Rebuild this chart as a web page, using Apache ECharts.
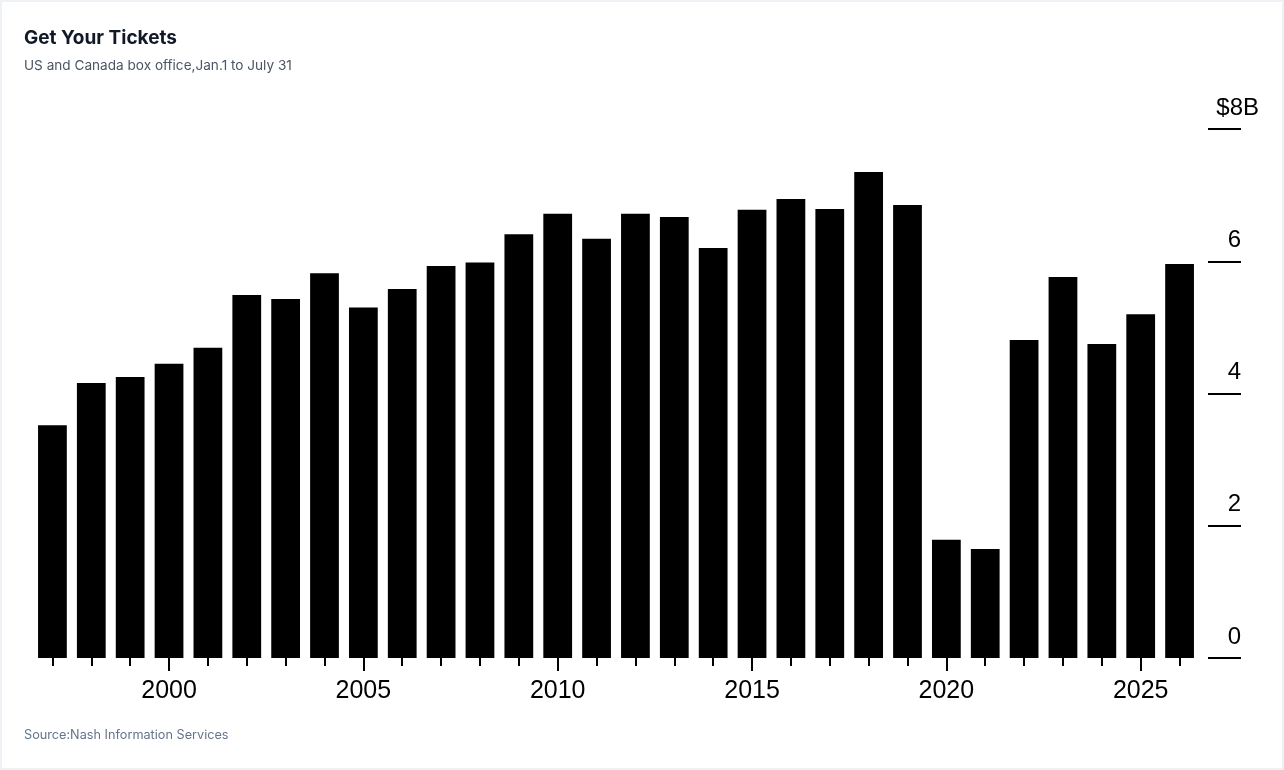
<!DOCTYPE html>
<html>
<head>
<meta charset="utf-8">
<script src="https://cdn.jsdelivr.net/npm/echarts@6/dist/echarts.min.js"></script>
<style>
  html, body { margin: 0; padding: 0; background: #eef2f6; }
  .chart { position: absolute; left: 2px; top: 2px; width: 1280px; height: 766px; background: #fff; }
</style>
</head>
<body>
<div class="chart"></div>
<script>
// 数据
const years = [
  "1997", "1998", "1999", "2000", "2001", "2002", "2003", "2004", "2005", "2006",
  "2007", "2008", "2009", "2010", "2011", "2012", "2013", "2014", "2015", "2016",
  "2017", "2018", "2019", "2020", "2021", "2022", "2023", "2024", "2025", "2026",
];
const boxOffice = [
  3.52, 4.16, 4.25, 4.45, 4.69, 5.49, 5.43, 5.82, 5.30, 5.58,
  5.93, 5.98, 6.41, 6.72, 6.34, 6.72, 6.67, 6.20, 6.78, 6.94,
  6.79, 7.35, 6.85, 1.79, 1.65, 4.81, 5.76, 4.75, 5.20, 5.96,
];
const yTicks = [0, 2, 4, 6, 8];

(function () {
  const el = document.querySelector(".chart");
  const myChart = echarts.init(el);
  const isMajor = function (index, value) {
    return Number(value) % 5 === 0;
  };
  const option = {
    animation: false,
    title: [
      {
        text: "Get Your Tickets",
        subtext: "US and Canada box office,Jan.1 to July 31",
        left: 17,
        top: 21,
        itemGap: 10,
        textStyle: {
          fontFamily: "Inter",
          fontSize: 19,
          fontWeight: "bold",
          color: "#111827",
          lineHeight: 20,
        },
        subtextStyle: {
          fontFamily: "Inter",
          fontSize: 13.6,
          color: "#4b5563",
          lineHeight: 16,
        },
      },
      {
        text: "Source:Nash Information Services",
        left: 17,
        bottom: 21,
        textStyle: {
          fontFamily: "Inter",
          fontSize: 12.7,
          fontWeight: "normal",
          color: "#64748b",
        },
      },
    ],
    grid: {
      left: 31,
      right: 83,
      top: 127,
      bottom: 110,
    },
    xAxis: [
      {
        type: "category",
        data: years,
        position: "bottom",
        axisLine: { show: false },
        axisTick: {
          show: true,
          alignWithLabel: true,
          interval: 0,
          length: 8,
          lineStyle: { color: "#000", width: 2 },
        },
        axisLabel: { show: false },
      },
      {
        type: "category",
        data: years,
        position: "bottom",
        axisLine: { show: false },
        axisTick: {
          show: true,
          alignWithLabel: true,
          interval: isMajor,
          length: 13,
          lineStyle: { color: "#000", width: 2 },
        },
        axisLabel: {
          interval: isMajor,
          margin: 21,
          color: "#000",
          fontFamily: "Liberation Sans",
          fontSize: 25,
        },
      },
    ],
    yAxis: {
      type: "value",
      position: "right",
      offset: 42,
      min: yTicks[0],
      max: yTicks[yTicks.length - 1],
      interval: 2,
      splitLine: { show: false },
      axisLine: { show: false },
      axisTick: {
        show: true,
        inside: true,
        length: 33,
        lineStyle: { color: "#000", width: 2 },
      },
      axisLabel: {
        inside: true,
        margin: -18,
        verticalAlign: "bottom",
        formatter: function (v) {
          return v === 8 ? "{u|$8B}" : "{n|" + v + "}";
        },
        rich: {
          u: {
            color: "#000",
            fontFamily: "Liberation Sans",
            fontSize: 24,
            padding: [0, 0, 9, 0],
          },
          n: {
            color: "#000",
            fontFamily: "Liberation Sans",
            fontSize: 24,
            padding: [0, 18, 9, 0],
          },
        },
      },
    },
    series: [
      {
        type: "bar",
        xAxisIndex: 0,
        data: boxOffice,
        barWidth: "74%",
        itemStyle: { color: "#000" },
      },
    ],
  };
  myChart.setOption(option);

  window.addEventListener("resize", function () {
    myChart.resize();
  });
})();
</script>
</body>
</html>
